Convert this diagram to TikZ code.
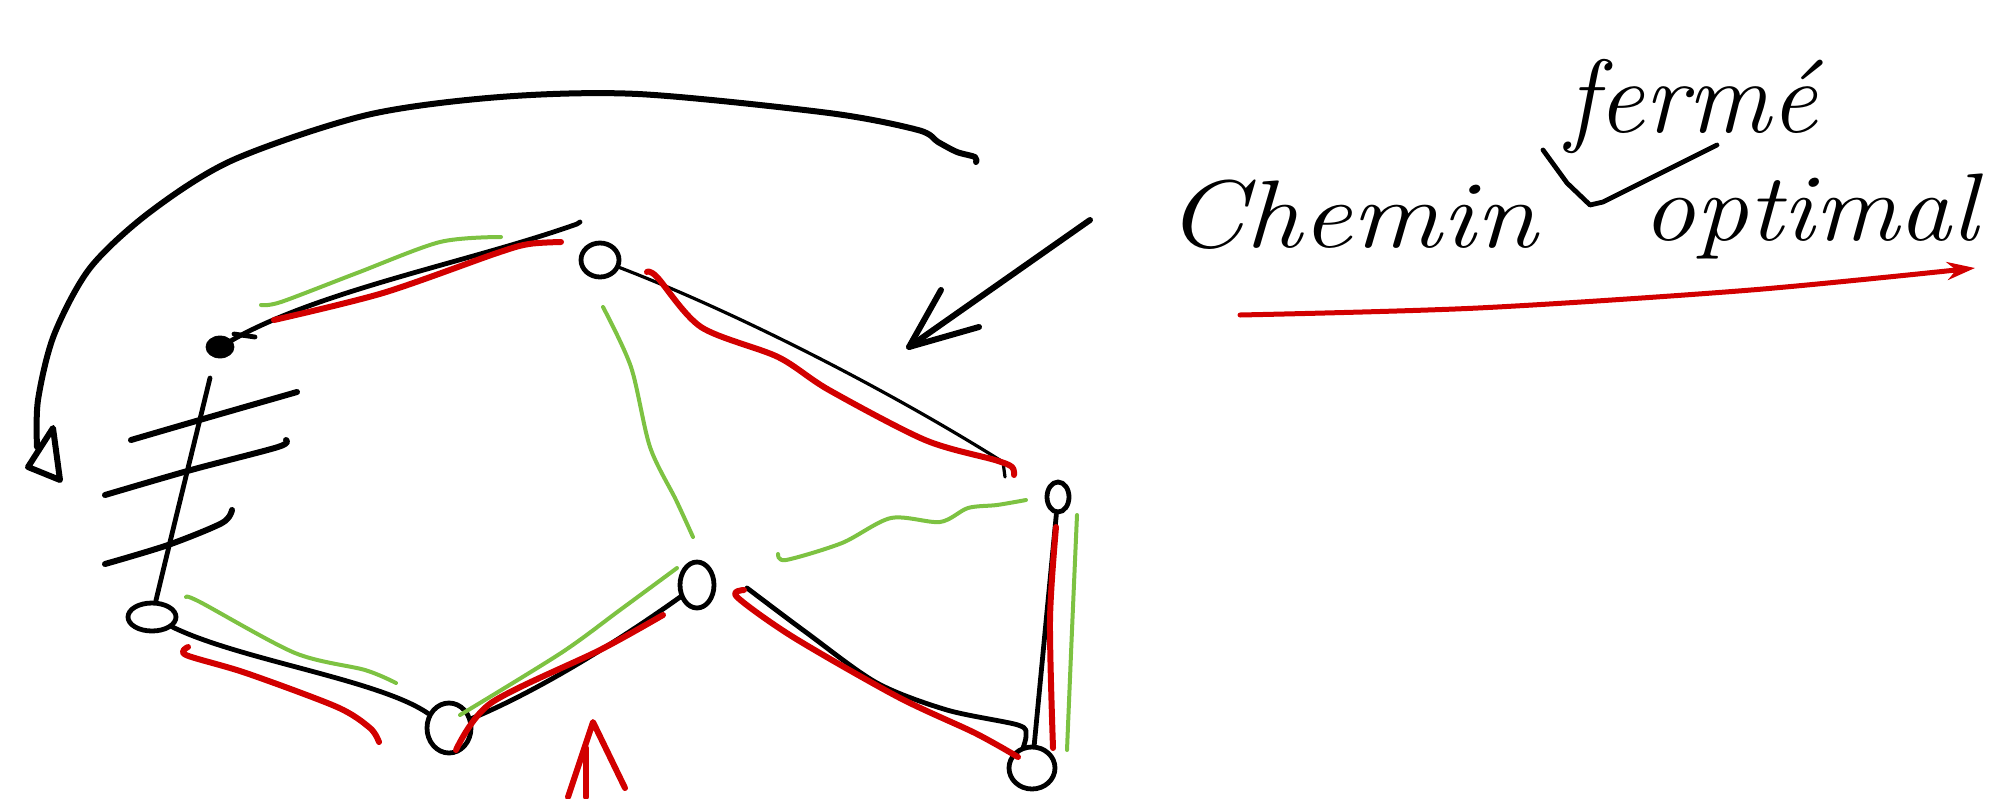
\documentclass[tikz,border=0pt]{standalone}
\usepackage{graphicx}
\usetikzlibrary{shapes.geometric,arrows.meta}
\definecolor{penred}{RGB}{210,0,0}
\definecolor{pengreen}{RGB}{125,194,66}
\tikzset{
  ink/.style={line width=2.4pt,line cap=round,line join=round,black},
  thinink/.style={line width=1.6pt,line cap=round,line join=round,black},
  redpen/.style={line width=3pt,line cap=round,line join=round,penred},
  greenpen/.style={line width=2pt,line cap=round,line join=round,pengreen},
  loopnode/.style={ellipse,draw=black,line width=2.4pt,inner sep=0pt},
  dotnode/.style={ellipse,fill=black,draw=black,inner sep=0pt,minimum width=14pt,minimum height=11pt},
  hand/.style={font=\fontsize{48}{56}\selectfont\itshape,inner sep=0pt}
}
\begin{document}
\begin{tikzpicture}[x=0.5pt,y=-0.5pt]
\useasboundingbox (0,0) rectangle (2007,798);
% graph nodes
\node[dotnode] (A) at (220,347) {};
\node[loopnode,minimum width=19pt,minimum height=17pt] (B) at (600,260) {};
\node[loopnode,minimum width=11pt,minimum height=15pt] (C) at (1058,497) {};
\node[loopnode,minimum width=23pt,minimum height=21pt] (D) at (1032,768) {};
\node[loopnode,minimum width=17pt,minimum height=23pt] (E) at (697,585) {};
\node[loopnode,minimum width=22pt,minimum height=25pt] (F) at (449,728) {};
\node[loopnode,minimum width=24pt,minimum height=14pt] (G) at (152,617) {};
% free ends
\coordinate (ab) at (577,224);
\coordinate (bc) at (1003,462);
\coordinate (de) at (747,588);
\coordinate (ga) at (210,378);
% black edges
\draw[ink] (A) .. controls (320,290) and (470,262) .. (ab) -- (580,222);
\draw[ink] (234,334) -- (255,337);
\draw[thinink] (B) .. controls (730,310) and (880,385) .. (bc) -- (1005,477);
\draw[ink] (C) -- (D);
\draw[ink] plot[smooth] coordinates {(de) (807,633) (877,683) (947,710) (1018,725) (1026,735) (1023,748)};
\draw[ink] (E) .. controls (620,640) and (540,690) .. (F);
\draw[ink] (G) .. controls (240,660) and (380,680) .. (F);
\draw[ink] (G) .. controls (180,500) and (195,440) .. (ga);
% hatches
\draw[ink,line width=3pt] plot[smooth] coordinates {(131,440) (210,417) (297,392)};
\draw[ink,line width=3pt] plot[smooth] coordinates {(105,495) (191,470) (278,447) (286,440)};
\draw[ink,line width=3pt] plot[smooth] coordinates {(105,564) (168,545) (222,523) (232,510)};
% green strokes
\draw[greenpen] plot[smooth] coordinates {(261,305) (281,302) (357,273) (440,242) (501,237)};
\draw[greenpen] plot[smooth] coordinates {(603,307) (631,367) (650,447) (676,500) (693,537)};
\draw[greenpen] plot[smooth] coordinates {(778,554) (786,560) (842,543) (891,518) (940,522) (968,508) (997,505) (1026,500)};
\draw[greenpen] plot[smooth] coordinates {(1077,515) (1072,630) (1067,750)};
\draw[greenpen] plot[smooth] coordinates {(677,568) (620,610) (561,653) (460,715)};
\draw[greenpen] plot[smooth] coordinates {(186,597) (200,602) (295,653) (365,670) (396,683)};
% red strokes
\draw[redpen] plot[smooth] coordinates {(274,320) (383,293) (497,253) (529,244) (561,242)};
\draw[redpen] plot[smooth] coordinates {(647,272) (657,277) (701,327) (778,357) (829,390) (925,440) (995,460) (1012,467) (1014,475)};
\draw[redpen] plot[smooth] coordinates {(1056,527) (1050,620) (1053,748)};
\draw[redpen] plot[smooth] coordinates {(744,590) (737,597) (793,637) (898,697) (975,733) (1018,757)};
\draw[redpen] plot[smooth] coordinates {(663,615) (600,650) (491,703) (456,750)};
\draw[redpen] plot[smooth] coordinates {(188,647) (186,655) (246,673) (337,707) (370,728) (379,742)};
% red arrow bottom
\draw[redpen] (568,797) -- (593,722) -- (625,788);
\draw[redpen] (586,748) -- (586,797);
% big black curved arrow
\draw[ink,line width=3pt] plot[smooth] coordinates {(976,162) (975,157) (957,152) (938,142) (918,130) (829,113) (638,94) (500,97) (367,115) (233,160) (150,212) (90,268) (54,335) (38,400) (37,447)};
\draw[ink,line width=3pt] (53,428) -- (60,480) -- (28,467) -- cycle;
% pointer arrow
\draw[ink,line width=3pt] (1090,220) -- (909,347);
\draw[ink,line width=3pt] (941,290) -- (909,347) -- (979,327);
% text
\node[hand,anchor=base west] (t1) at (1166,247) {\scalebox{1.17}[1]{Chemin}};
\node[hand,anchor=base west,font=\fontsize{52}{60}\selectfont\itshape] (t2) at (1566,132) {fermé};
\node[hand,anchor=base west] (t3) at (1642,240) {\scalebox{1.1}[1]{optimal}};
\draw[ink] (1543,150) -- (1567,183) -- (1590,205) -- (1603,202) -- (1717,145);
% red underline
\draw[penred,line width=2.5pt,line cap=round,-{Stealth[length=14pt,width=9pt]}] plot[smooth] coordinates {(1240,315) (1478,308) (1751,290) (1975,268)};
\end{tikzpicture}
\end{document}
